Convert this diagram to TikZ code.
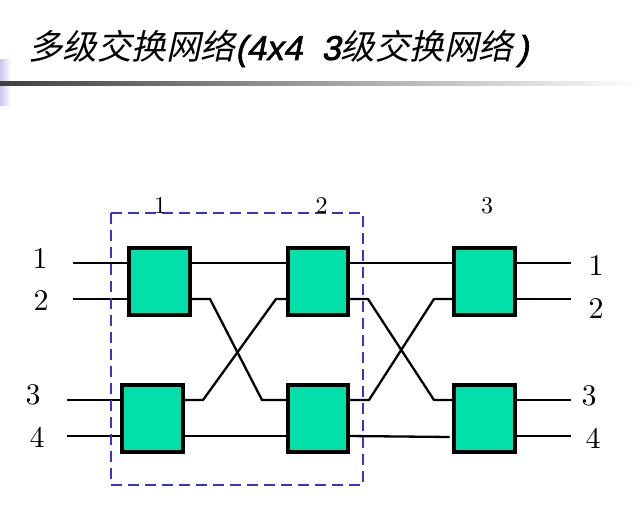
\documentclass[tikz,border=0pt]{standalone}
\usepackage{fontspec}
\newfontfamily\cjk[FakeSlant=0.22]{Noto Sans CJK SC}
\newfontfamily\latbi[FakeSlant=0.2,FakeBold=1.8]{Liberation Sans}
\newfontfamily\dig[Extension=.otf]{lmroman10-regular}
\usetikzlibrary{calc}
\definecolor{swgreen}{HTML}{00E0A8}
\definecolor{dashblue}{HTML}{3535CC}
\definecolor{lav}{HTML}{C8C8EE}
\tikzset{
  sw/.style={draw=black, line width=2.6pt, fill=swgreen, minimum width=59pt, minimum height=65pt, inner sep=0pt},
  wire/.style={line width=2.3pt, black},
  biglab/.style={font=\dig\fontsize{30}{30}\selectfont, inner sep=0pt},
  stagelab/.style={font=\dig\fontsize{24}{24}\selectfont, inner sep=0pt},
  grp/.style={draw=dashblue, line width=2.6pt, dash pattern=on 11pt off 6pt}
}
\begin{document}
\begin{tikzpicture}[x=1pt,y=-1pt]
\useasboundingbox (0,0) rectangle (643,510);
% header decoration
\shade[left color=lav, right color=white] (0,60) rectangle (11,106);
\shade[left color=black!75, right color=white] (0,82) rectangle (643,86);
% title
\node (title) [anchor=base west, inner sep=0pt] at (28,60) {\fontsize{34.5}{34.5}\selectfont{\cjk 多级交换网络}{\latbi (4x4\ \ 3}{\cjk 级交换网络}\hspace{4pt}{\latbi )}};
% switches
\node[sw, minimum width=59pt] (s11) at (159.5,281.5) {};
\node[sw, minimum width=59pt] (s12) at (152.5,418.5) {};
\node[sw, minimum width=58pt] (s21) at (318,281.5) {};
\node[sw, minimum width=58pt] (s22) at (318,418.5) {};
\node[sw, minimum width=59pt] (s31) at (484.5,281.5) {};
\node[sw, minimum width=59pt] (s32) at (484.5,418.5) {};
% terminals
\coordinate (in1) at (73,263);
\coordinate (in2) at (73,299);
\coordinate (in3) at (67,400);
\coordinate (in4) at (67,436);
\coordinate (out1) at (571,263);
\coordinate (out2) at (571,299);
\coordinate (out3) at (571,400);
\coordinate (out4) at (571,436);
% inputs
\draw[wire] (in1) -- (in1 -| s11.west);
\draw[wire] (in2) -- (in2 -| s11.west);
\draw[wire] (in3) -- (in3 -| s12.west);
\draw[wire] (in4) -- (in4 -| s12.west);
% stage 1 -> 2
\draw[wire] (s11.east |- in1) -- (s21.west |- in1);
\draw[wire] (s11.east |- in2) -- (210,299) -- (262,400) -- (s22.west |- in3);
\draw[wire] (s12.east |- in3) -- (203,400) -- (276,299) -- (s21.west |- in2);
\draw[wire] (s12.east |- in4) -- (s22.west |- in4);
% stage 2 -> 3
\draw[wire] (s21.east |- in1) -- (s31.west |- in1);
\draw[wire] (s21.east |- in2) -- (368,299) -- (434,400) -- (s32.west |- in3);
\draw[wire] (s22.east |- in3) -- (369,400) -- (434,299) -- (s31.west |- in2);
\draw[wire] (s22.east |- in4) -- ($(s32.west |- in4)+(-4,1)$);
% outputs
\draw[wire] (s31.east |- out1) -- (out1);
\draw[wire] (s31.east |- out2) -- (out2);
\draw[wire] (s32.east |- out3) -- (out3);
\draw[wire] (s32.east |- out4) -- (out4);
% redraw switch borders on top
\foreach \n in {s11,s12,s21,s22,s31,s32}{\draw[line width=2.6pt] (\n.north west) rectangle (\n.south east);}
% group box
\draw[grp] (111,213) rectangle (363,485);
% labels
\node[stagelab] (st1) at (160,206) {1};
\node[stagelab] (st2) at (321.5,206) {2};
\node[stagelab] (st3) at (487,206) {3};
\node[biglab] (l1) at (40,259) {1};
\node[biglab] (l2) at (41,301) {2};
\node[biglab] (l3) at (33,395) {3};
\node[biglab] (l4) at (37,437) {4};
\node[biglab] (r1) at (596,266) {1};
\node[biglab] (r2) at (596,309) {2};
\node[biglab] (r3) at (589,396) {3};
\node[biglab] (r4) at (593,438) {4};
\end{tikzpicture}
\end{document}
